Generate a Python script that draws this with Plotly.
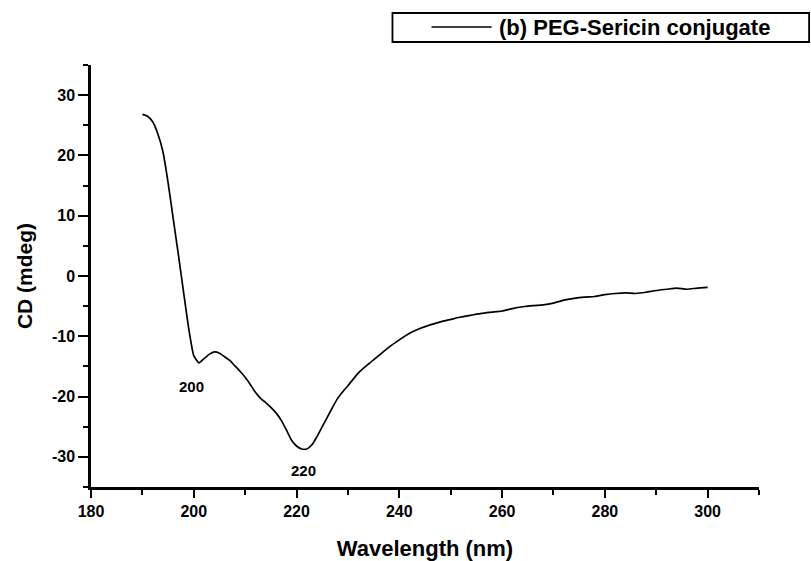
import plotly.graph_objects as go

wavelength = [190, 191, 192, 193, 194, 195, 196, 197, 198, 199, 200, 201, 202, 203, 204,
              205, 206, 207, 208, 209, 210, 211, 212, 213, 214, 215, 216, 217, 218, 219,
              220, 221, 222, 223, 224, 225, 226, 227, 228, 229, 230, 232, 234, 236, 238,
              240, 242, 244, 246, 248, 250, 252, 254, 256, 258, 260, 262, 264, 266, 268,
              270, 272, 274, 276, 278, 280, 282, 284, 286, 288, 290, 292, 294, 296, 298, 300]
cd_mdeg = [26.8, 26.5, 25.6, 23.6, 20.6, 15.5, 9.5, 3.6, -2.6, -8.6, -13.2, -14.4, -13.7, -13.0, -12.6,
           -12.8, -13.4, -14.0, -14.9, -15.8, -16.8, -18.0, -19.3, -20.3, -21.0, -21.8, -22.7, -23.9, -25.5, -27.2,
           -28.2, -28.7, -28.7, -28.0, -26.6, -25.0, -23.4, -21.8, -20.3, -19.2, -18.2, -16.1, -14.6, -13.2, -11.8,
           -10.6, -9.5, -8.7, -8.1, -7.6, -7.2, -6.8, -6.5, -6.2, -6.0, -5.8, -5.4, -5.1, -4.9, -4.8,
           -4.5, -4.0, -3.7, -3.5, -3.4, -3.1, -2.9, -2.8, -2.9, -2.7, -2.4, -2.2, -2.0, -2.2, -2.0, -1.9]

x_ticks = [180, 200, 220, 240, 260, 280, 300]
y_ticks = [-30, -20, -10, 0, 10, 20, 30]
y_tick_labels = ["-30", "-20", "-10", "0", "10", "20", "30"]

series_name = "(b) PEG-Sericin conjugate"
peak_labels = ["200", "220"]
peak_x = [199.6, 221.3]
peak_y = [-18.4, -32.2]

FONT = "Liberation Sans, Arial, sans-serif"

fig = go.Figure()
fig.add_trace(go.Scatter(
    x=wavelength, y=cd_mdeg, mode="lines",
    line=dict(color="black", width=1.7, shape="spline", smoothing=0.5),
    name=series_name, showlegend=False, hoverinfo="skip"))

for t, xx, yy in zip(peak_labels, peak_x, peak_y):
    fig.add_annotation(x=xx, y=yy, text=t, showarrow=False,
                       font=dict(family=FONT, size=15, color="black", weight="bold"))

# legend box drawn manually
fig.add_shape(type="rect", xref="paper", yref="paper",
              x0=0.4513, x1=1.075, y0=1.0545, y1=1.1232,
              line=dict(color="black", width=1.8), fillcolor="white")
fig.add_shape(type="line", xref="paper", yref="paper",
              x0=0.5097, x1=0.5997, y0=1.090, y1=1.090,
              line=dict(color="black", width=1.3))
fig.add_annotation(xref="paper", yref="paper", x=0.6072, y=1.090, text=series_name,
                   xanchor="left", yanchor="middle", showarrow=False,
                   font=dict(family=FONT, size=22, color="black", weight="bold"))

axis_common = dict(
    showline=True, linecolor="black", linewidth=2.5,
    ticks="outside", tickcolor="black", tickwidth=2,
    showgrid=False, zeroline=False, mirror=False, automargin=False,
    tickfont=dict(family=FONT, size=16, color="black", weight="bold"),
)

fig.update_xaxes(range=[180, 310], tickvals=x_ticks, ticklen=8,
                 minor=dict(dtick=10, tick0=180, ticks="outside", ticklen=5, tickwidth=2, tickcolor="black", showgrid=False),
                 title=dict(text="<b>Wavelength (nm)</b>", font=dict(family=FONT, size=22, color="black"), standoff=26),
                 **axis_common)
fig.update_yaxes(range=[-35, 35], tickvals=y_ticks, ticktext=y_tick_labels, ticklen=10,
                 minor=dict(dtick=5, tick0=0, ticks="outside", ticklen=5, tickwidth=2, tickcolor="black", showgrid=False),
                 title=dict(text="<b>CD (mdeg)</b>", font=dict(family=FONT, size=21, color="black"), standoff=14),
                 **axis_common)

fig.update_layout(
    width=811, height=561,
    margin=dict(l=91, r=52, t=65, b=74),
    plot_bgcolor="white", paper_bgcolor="white",
    showlegend=False,
)

fig.write_html("out.html")
